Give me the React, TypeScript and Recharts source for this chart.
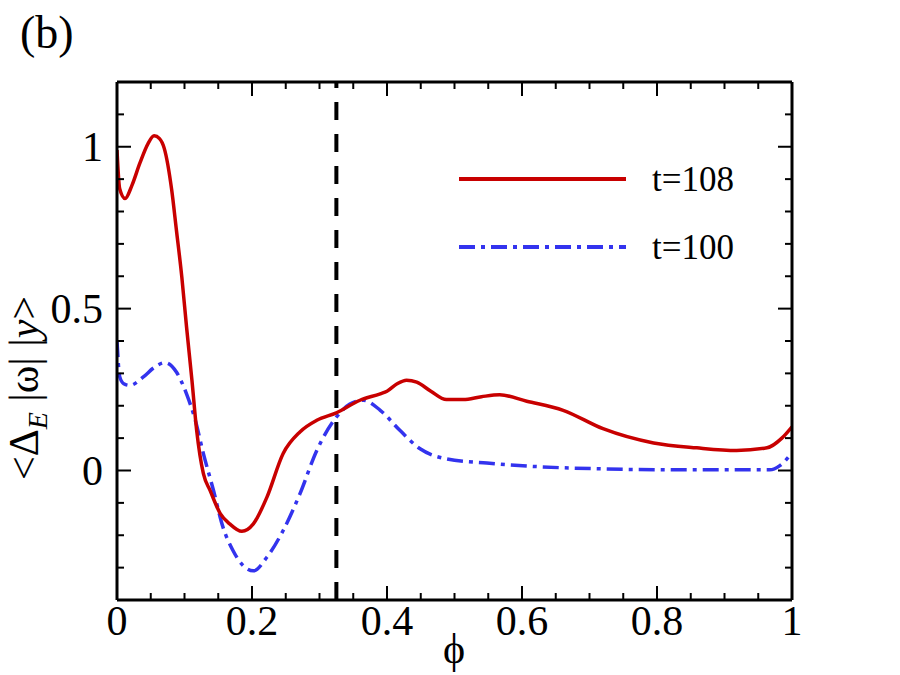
import React from "react";
import { LineChart, Line, XAxis, YAxis, ReferenceLine } from "recharts";

const phi108 = [0, 0.004, 0.012, 0.022, 0.034, 0.046, 0.055, 0.063, 0.07, 0.081, 0.088, 0.096, 0.103, 0.111, 0.118, 0.128, 0.138, 0.153, 0.167, 0.185, 0.202, 0.222, 0.246, 0.271, 0.296, 0.325, 0.36, 0.39, 0.4, 0.415, 0.429, 0.444, 0.465, 0.488, 0.513, 0.54, 0.567, 0.607, 0.661, 0.72, 0.795, 0.859, 0.918, 0.963, 0.985, 1];
const val108 = [0.99, 0.87, 0.84, 0.88, 0.95, 1.01, 1.034, 1.025, 0.995, 0.867, 0.743, 0.598, 0.444, 0.279, 0.124, -0.01, -0.062, -0.133, -0.165, -0.188, -0.165, -0.083, 0.052, 0.119, 0.155, 0.178, 0.217, 0.237, 0.245, 0.268, 0.279, 0.273, 0.245, 0.219, 0.219, 0.228, 0.234, 0.214, 0.186, 0.129, 0.085, 0.07, 0.062, 0.07, 0.1, 0.135];

const phi100 = [0, 0.004, 0.01, 0.019, 0.039, 0.055, 0.071, 0.088, 0.103, 0.116, 0.128, 0.143, 0.157, 0.172, 0.187, 0.202, 0.222, 0.246, 0.271, 0.296, 0.325, 0.345, 0.365, 0.39, 0.419, 0.449, 0.488, 0.548, 0.622, 0.72, 0.844, 0.967, 0.982, 1];
const val100 = [0.4, 0.29, 0.268, 0.263, 0.289, 0.318, 0.333, 0.304, 0.237, 0.155, 0.052, -0.062, -0.175, -0.248, -0.294, -0.31, -0.268, -0.186, -0.072, 0.062, 0.165, 0.205, 0.217, 0.186, 0.124, 0.067, 0.036, 0.023, 0.012, 0.005, 0.002, 0.002, 0.015, 0.055];

const xTicks = [0, 0.05, 0.1, 0.15, 0.2, 0.25, 0.3, 0.35, 0.4, 0.45, 0.5, 0.55, 0.6, 0.65, 0.7, 0.75, 0.8, 0.85, 0.9, 0.95, 1];
const xMajorLabels: Record<string, string> = { "0": "0", "0.2": "0.2", "0.4": "0.4", "0.6": "0.6", "0.8": "0.8", "1": "1" };
const yTicks = [-0.4, -0.3, -0.2, -0.1, 0, 0.1, 0.2, 0.3, 0.4, 0.5, 0.6, 0.7, 0.8, 0.9, 1, 1.1, 1.2];
const yMajorLabels: Record<string, string> = { "0": "0", "0.5": "0.5", "1": "1" };

const seriesNames = ["t=108", "t=100"];
const phiCritical = 0.325;

const data108 = phi108.map((p, i) => ({ phi: p, v: val108[i] }));
const data100 = phi100.map((p, i) => ({ phi: p, v: val100[i] }));

const FONT = "Liberation Serif, Times New Roman, serif";
const RED = "#c80000";
const BLUE = "#3333ee";
const BLUE_DASH = "16 6 4 6";
const MAJ = 14;
const MIN = 7;

const key = (v: number) => String(Math.round(v * 100) / 100);
const isXMajor = (v: number) => Math.round(v * 100) % 20 === 0;
const isYMajor = (v: number) => Math.round(v * 100) % 50 === 0;

const BottomTick = (props: any) => {
  const { x, y, payload } = props;
  const v = payload.value;
  const maj = isXMajor(v);
  const lab = xMajorLabels[key(v)];
  return (
    <g>
      <line x1={x} x2={x} y1={y} y2={y - (maj ? MAJ : MIN)} stroke="#000" strokeWidth={2} />
      {lab !== undefined && (
        <text x={x} y={y + 35} textAnchor="middle" fontFamily={FONT} fontSize={42} fill="#000">
          {lab}
        </text>
      )}
    </g>
  );
};

const TopTick = (props: any) => {
  const { x, y, payload } = props;
  const maj = isXMajor(payload.value);
  return <line x1={x} x2={x} y1={y} y2={y + (maj ? MAJ : MIN)} stroke="#000" strokeWidth={2} />;
};

const LeftTick = (props: any) => {
  const { x, y, payload } = props;
  const v = payload.value;
  const maj = isYMajor(v);
  const lab = yMajorLabels[key(v)];
  return (
    <g>
      <line x1={x} x2={x + (maj ? MAJ : MIN)} y1={y} y2={y} stroke="#000" strokeWidth={2} />
      {lab !== undefined && (
        <text x={x - 14} y={y + 14} textAnchor="end" fontFamily={FONT} fontSize={42} fill="#000">
          {lab}
        </text>
      )}
    </g>
  );
};

const RightTick = (props: any) => {
  const { x, y, payload } = props;
  const maj = isYMajor(payload.value);
  return <line x1={x} x2={x - (maj ? MAJ : MIN)} y1={y} y2={y} stroke="#000" strokeWidth={2} />;
};

export default function App() {
  return (
    <div style={{ position: "absolute", left: 0, top: 0, width: 900, height: 675, background: "#fff" }}>
      <LineChart width={900} height={675} margin={{ top: 81, right: 107, bottom: 74, left: 116 }}>
        <XAxis
          xAxisId={0}
          dataKey="phi"
          type="number"
          domain={[0, 1]}
          ticks={xTicks}
          interval={0}
          height={1}
          tickSize={0}
          tickMargin={0}
          tickLine={false}
          axisLine={{ stroke: "#000", strokeWidth: 3 }}
          tick={BottomTick}
          allowDataOverflow
        />
        <XAxis
          xAxisId="top"
          orientation="top"
          dataKey="phi"
          type="number"
          domain={[0, 1]}
          ticks={xTicks}
          interval={0}
          height={1}
          tickSize={0}
          tickMargin={0}
          tickLine={false}
          axisLine={{ stroke: "#000", strokeWidth: 3 }}
          tick={TopTick}
          allowDataOverflow
        />
        <YAxis
          yAxisId={0}
          type="number"
          domain={[-0.4, 1.2]}
          ticks={yTicks}
          interval={0}
          width={1}
          tickSize={0}
          tickMargin={0}
          tickLine={false}
          axisLine={{ stroke: "#000", strokeWidth: 3 }}
          tick={LeftTick}
          allowDataOverflow
        />
        <YAxis
          yAxisId="right"
          orientation="right"
          type="number"
          domain={[-0.4, 1.2]}
          ticks={yTicks}
          interval={0}
          width={1}
          tickSize={0}
          tickMargin={0}
          tickLine={false}
          axisLine={{ stroke: "#000", strokeWidth: 3 }}
          tick={RightTick}
          allowDataOverflow
        />
        <Line
          data={data100}
          dataKey="v"
          name={seriesNames[1]}
          type="monotone"
          stroke={BLUE}
          strokeWidth={3.5}
          strokeDasharray={BLUE_DASH}
          dot={false}
          isAnimationActive={false}
        />
        <Line
          data={data108}
          dataKey="v"
          name={seriesNames[0]}
          type="monotone"
          stroke={RED}
          strokeWidth={3.5}
          dot={false}
          isAnimationActive={false}
        />
        <ReferenceLine x={phiCritical} stroke="#000" strokeWidth={4} strokeDasharray="18 14" />
      </LineChart>
      <svg
        width={900}
        height={675}
        style={{ position: "absolute", left: 0, top: 0, pointerEvents: "none" }}
      >
        <text x={20} y={48} fontFamily={FONT} fontSize={46} fill="#000">(b)</text>
        <text x={454} y={663} textAnchor="middle" fontFamily={FONT} fontSize={42} fill="#000">ϕ</text>
        <text
          x={38}
          y={388}
          textAnchor="middle"
          fontFamily={FONT}
          fontSize={42}
          fill="#000"
          transform="rotate(-90 38 388)"
        >
          {"<Δ"}
          <tspan fontSize={28} fontStyle="italic" dy={9}>E</tspan>
          <tspan dy={-9}>{" |ω| |"}</tspan>
          <tspan fontStyle="italic">y</tspan>
          <tspan>{">"}</tspan>
        </text>
        <line x1={459} x2={626} y1={179} y2={179} stroke={RED} strokeWidth={4} />
        <text x={652} y={191} fontFamily={FONT} fontSize={35} fill="#000">{seriesNames[0]}</text>
        <line x1={459} x2={626} y1={247} y2={247} stroke={BLUE} strokeWidth={4} strokeDasharray={BLUE_DASH} />
        <text x={652} y={259} fontFamily={FONT} fontSize={35} fill="#000">{seriesNames[1]}</text>
      </svg>
    </div>
  );
}
